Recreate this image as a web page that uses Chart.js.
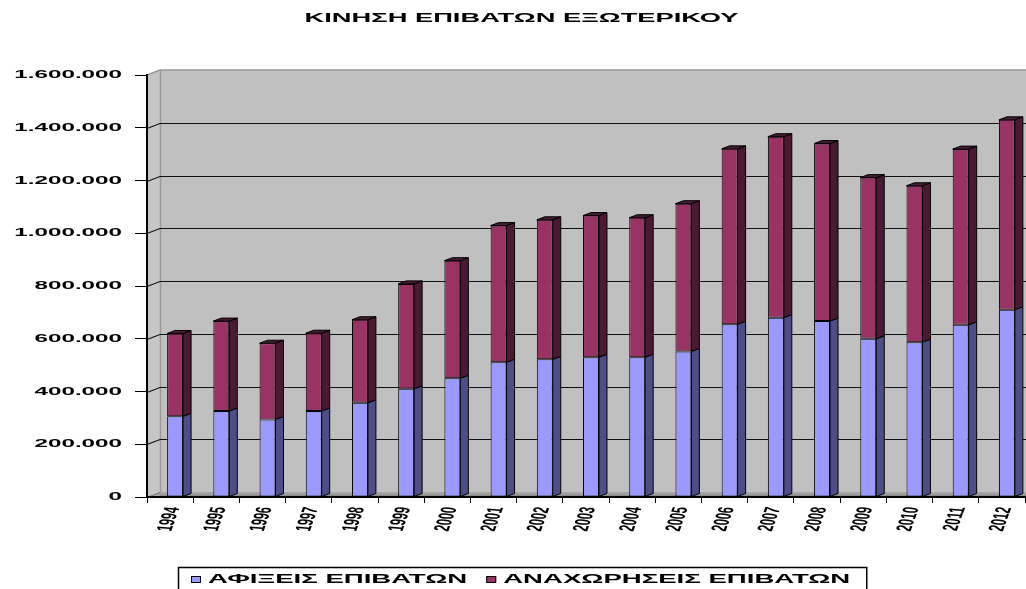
<!DOCTYPE html>
<html>
<head>
<meta charset="utf-8">
<script src="https://cdn.jsdelivr.net/npm/chart.js@4.4.1/dist/chart.umd.min.js"></script>
<style>
html,body{margin:0;padding:0;background:#fff;}
#wrap{width:1026px;height:589px;position:relative;}
</style>
</head>
<body>
<div id="wrap"><canvas id="c" width="1026" height="589"></canvas></div>
<script>
// ---- data ----
const TITLE = 'ΚΙΝΗΣΗ ΕΠΙΒΑΤΩΝ ΕΞΩΤΕΡΙΚΟΥ';
const YEARS = ['1994','1995','1996','1997','1998','1999','2000','2001','2002','2003',
               '2004','2005','2006','2007','2008','2009','2010','2011','2012'];
const ARRIVALS_LABEL = 'ΑΦΙΞΕΙΣ ΕΠΙΒΑΤΩΝ';
const DEPARTURES_LABEL = 'ΑΝΑΧΩΡΗΣΕΙΣ ΕΠΙΒΑΤΩΝ';
const ARRIVALS = [306000, 326000, 294000, 326000, 357000, 410000, 450000, 511000, 522000, 530000,
                  530000, 552000, 655000, 680000, 667000, 600000, 587000, 653000, 710000];
const DEPARTURES = [314000, 341000, 289000, 295000, 315000, 398000, 446000, 518000, 529000, 537000,
                    529000, 560000, 665000, 686000, 673000, 611000, 593000, 666000, 720000];
const Y_TICKS = [0, 200000, 400000, 600000, 800000, 1000000, 1200000, 1400000, 1600000];

// ---- style ----
const FONT = "'Liberation Sans', Arial, sans-serif";
const FRONT = ['#9999FF', '#993366'];
const SIDE = ['#4D4D88', '#4A1A35'];
const TOP_FACE = '#4A1A35';
const WALL_DEPTH = {dx: 13, dy: -5};
const BAR_DEPTH = {dx: 8, dy: -3};
const BAR_SHIFT = 5;
const SX_TITLE = 2.1, SX_YT = 2.2, SX_XT = 2.0, SX_LEG = 2.12;
const CENTER_SHIFT = 9;

function fmt(v) { return String(v).replace(/\B(?=(\d{3})+(?!\d))/g, '.'); }

function poly(ctx, pts, fill, stroke) {
  ctx.beginPath();
  ctx.moveTo(pts[0][0], pts[0][1]);
  for (let i = 1; i < pts.length; i++) ctx.lineTo(pts[i][0], pts[i][1]);
  ctx.closePath();
  if (fill) { ctx.fillStyle = fill; ctx.fill(); }
  if (stroke) { ctx.strokeStyle = stroke; ctx.lineWidth = 1; ctx.stroke(); }
}

function stretchLabels(scale, sx) {
  scale.drawLabels = function (chartArea) {
    const ctx = this.ctx;
    const items = this.getLabelItems(chartArea);
    for (const it of items) {
      const o = it.options;
      ctx.save();
      ctx.translate(o.translation[0], o.translation[1]);
      ctx.scale(sx, 1);
      ctx.rotate(o.rotation);
      ctx.font = it.font.string;
      ctx.fillStyle = o.color;
      ctx.textAlign = o.textAlign;
      ctx.textBaseline = o.textBaseline;
      const lines = Array.isArray(it.label) ? it.label : [it.label];
      let y = it.textOffset;
      for (const l of lines) { ctx.fillText(l, 0, y); y += it.font.lineHeight; }
      ctx.restore();
    }
  };
}

const look3d = {
  id: 'look3d',
  afterLayout(chart) {
    if (chart.scales.x && !chart.scales.x._stretched) { stretchLabels(chart.scales.x, SX_XT); chart.scales.x._stretched = true; }
    if (chart.scales.y && !chart.scales.y._stretched) { stretchLabels(chart.scales.y, SX_YT); chart.scales.y._stretched = true; }
    const tb = chart.titleBlock;
    if (tb && !tb._stretched) {
      const orig = tb.draw.bind(tb);
      tb.draw = function (area) {
        const ctx = this.ctx;
        const cx = (this.left + this.right) / 2;
        ctx.save();
        ctx.translate(cx + CENTER_SHIFT, 0);
        ctx.scale(SX_TITLE, 1);
        ctx.translate(-cx, 0);
        orig(area);
        ctx.restore();
      };
      tb._stretched = true;
    }
  },
  beforeDraw(chart) {
    const ctx = chart.ctx, a = chart.chartArea, ys = chart.scales.y;
    const {dx, dy} = WALL_DEPTH;
    const x0 = a.left, yb = a.bottom, yt = a.top, xr = chart.width + 20;
    ctx.save();
    // back wall
    ctx.fillStyle = '#C0C0C0';
    ctx.fillRect(x0 + dx, yt + dy, xr - (x0 + dx), yb - yt);
    // left wall
    poly(ctx, [[x0, yb], [x0, yt], [x0 + dx, yt + dy], [x0 + dx, yb + dy]], '#C6C6C6');
    // floor
    poly(ctx, [[x0, yb], [xr, yb], [xr, yb + dy], [x0 + dx, yb + dy]], '#A6A6A6');
    ctx.fillStyle = '#8C8C8C';
    ctx.fillRect(x0 + dx, yb + dy + 2.5, xr - x0, 2.5);
    // wall edges
    ctx.strokeStyle = '#999999';
    ctx.lineWidth = 1.5;
    ctx.beginPath();
    ctx.moveTo(x0, yt); ctx.lineTo(x0 + dx, yt + dy); ctx.lineTo(xr, yt + dy);
    ctx.moveTo(x0 + dx + 0.5, yt + dy); ctx.lineTo(x0 + dx + 0.5, yb + dy);
    ctx.stroke();
    // gridlines on the back wall
    ctx.lineWidth = 1.2;
    for (const v of Y_TICKS) {
      const py = Math.round(ys.getPixelForValue(v)) + 0.5;
      if (v === Y_TICKS[Y_TICKS.length - 1]) continue;
      ctx.strokeStyle = v === 0 ? '#7A7A7A' : '#111111';
      ctx.beginPath();
      ctx.moveTo(x0, py);
      ctx.lineTo(x0 + dx, py + dy);
      if (v !== 0) ctx.lineTo(xr, py + dy);
      ctx.stroke();
    }
    ctx.restore();
  },
  beforeDatasetDraw(chart) { chart.ctx.save(); chart.ctx.translate(BAR_SHIFT, 0); },
  afterDatasetDraw(chart) { chart.ctx.restore(); },
  afterDatasetsDraw(chart) {
    const ctx = chart.ctx;
    const {dx, dy} = BAR_DEPTH;
    const last = chart.data.datasets.length - 1;
    ctx.save();
    chart.data.datasets.forEach((ds, di) => {
      const meta = chart.getDatasetMeta(di);
      meta.data.forEach(bar => {
        const p = bar.getProps(['x', 'y', 'base', 'width'], true);
        const l = p.x - p.width / 2 + BAR_SHIFT, r = p.x + p.width / 2 + BAR_SHIFT;
        const top = Math.min(p.y, p.base), bot = Math.max(p.y, p.base);
        poly(ctx, [[r, bot], [r + dx, bot + dy], [r + dx, top + dy], [r, top]], SIDE[di], '#000');
        if (di === last) {
          poly(ctx, [[l, top], [r, top], [r + dx, top + dy], [l + dx, top + dy]], TOP_FACE, '#000');
        }
      });
    });
    ctx.restore();
  },
  afterDraw(chart) {
    // legend box
    const ctx = chart.ctx;
    ctx.save();
    ctx.font = 'bold 13px ' + FONT;
    const items = chart.data.datasets.map((ds, i) => ({
      label: ds.label, color: FRONT[i], w: ctx.measureText(ds.label).width * SX_LEG
    }));
    const padL = 13, sqW = 10, sqH = 6, sqGap = 7, itemGap = 19, padR = 16;
    let total = padL + padR;
    items.forEach((it, i) => { total += sqW + sqGap + it.w + (i < items.length - 1 ? itemGap : 0); });
    const left = Math.round(chart.width / 2 + CENTER_SHIFT - total / 2);
    const top = 567, cy = 579;
    ctx.strokeStyle = '#000';
    ctx.lineWidth = 1.5;
    ctx.strokeRect(left + 0.5, top + 0.5, total, 30);
    let x = left + padL;
    items.forEach(it => {
      ctx.fillStyle = it.color;
      ctx.fillRect(x, cy - sqH / 2, sqW, sqH);
      ctx.lineWidth = 1;
      ctx.strokeRect(x + 0.5, cy - sqH / 2 + 0.5, sqW - 1, sqH);
      x += sqW + sqGap;
      ctx.save();
      ctx.translate(x, cy);
      ctx.scale(SX_LEG, 1);
      ctx.fillStyle = '#000';
      ctx.textAlign = 'left';
      ctx.textBaseline = 'middle';
      ctx.fillText(it.label, 0, 0);
      ctx.restore();
      x += it.w + itemGap;
    });
    ctx.restore();
  }
};

Chart.defaults.font.family = FONT;
Chart.defaults.color = '#000';

new Chart(document.getElementById('c'), {
  type: 'bar',
  data: {
    labels: YEARS,
    datasets: [
      { label: ARRIVALS_LABEL, data: ARRIVALS, backgroundColor: FRONT[0], borderColor: '#000', borderWidth: 1, borderSkipped: false },
      { label: DEPARTURES_LABEL, data: DEPARTURES, backgroundColor: FRONT[1], borderColor: '#000', borderWidth: 1, borderSkipped: false }
    ]
  },
  options: {
    responsive: false,
    animation: false,
    devicePixelRatio: 1,
    categoryPercentage: 1,
    barPercentage: 0.345,
    layout: { padding: { left: 0, right: 1, top: 0, bottom: 0 } },
    plugins: {
      legend: { display: false },
      tooltip: { enabled: false },
      title: {
        display: true, text: TITLE, color: '#000',
        font: { size: 13, weight: 'bold' },
        padding: { top: 11, bottom: 48.4 }
      }
    },
    scales: {
      x: {
        stacked: true,
        offset: true,
        grid: { offset: true, drawOnChartArea: false, tickLength: 6, color: '#000', lineWidth: 1 },
        border: { color: '#000', width: 2 },
        ticks: { minRotation: 80, maxRotation: 80, autoSkip: false, color: '#000', padding: 3,
                 labelOffset: -3, font: { size: 11, weight: 'bold' } },
        afterFit: s => { s.height = 92; }
      },
      y: {
        stacked: true,
        min: 0,
        max: 1600000,
        afterBuildTicks: s => { s.ticks = Y_TICKS.map(v => ({ value: v })); },
        grid: { drawOnChartArea: false, tickLength: 12, color: '#000', lineWidth: 1 },
        border: { color: '#000', width: 2 },
        ticks: { callback: v => fmt(v), color: '#000', padding: 13, font: { size: 11, weight: 'bold' } },
        afterFit: s => { s.width = 147; }
      }
    }
  },
  plugins: [look3d]
});
</script>
</body>
</html>
